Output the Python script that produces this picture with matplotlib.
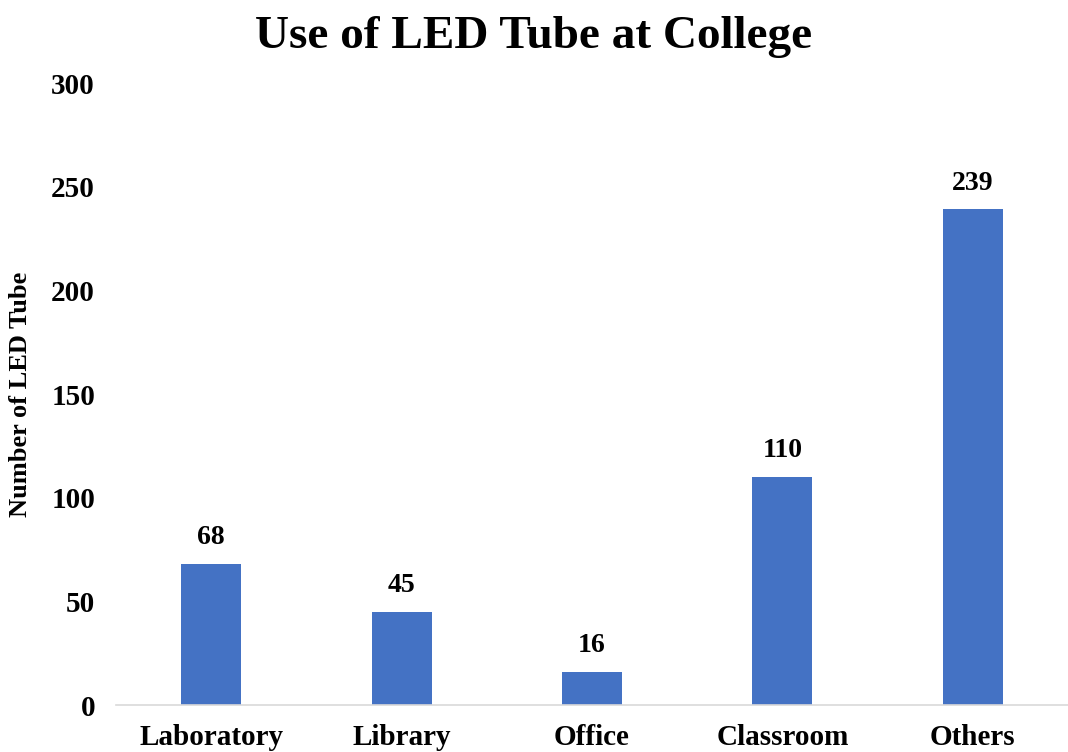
import matplotlib.pyplot as plt
import numpy as np

# Daten
categories = ['Laboratory', 'Library', 'Office', 'Classroom', 'Others']
values = [68, 45, 16, 110, 239]
yticks = [0, 50, 100, 150, 200, 250, 300]

plt.rcParams['font.family'] = ['Liberation Serif', 'DejaVu Serif']
plt.rcParams['font.weight'] = 'bold'

fig = plt.figure(figsize=(10.68, 7.52), dpi=100)
ax = fig.add_axes([0.1085, 0.0625, 0.8915, 0.8271])

x = np.arange(len(categories))
bars = ax.bar(x, values, width=0.315, color='#4472C4')

for b, v in zip(bars, values):
    ax.annotate(str(v), (b.get_x() + b.get_width() / 2, v),
                xytext=(0, 19), textcoords='offset points',
                ha='center', va='center', fontsize=20, fontweight='bold')

ax.set_xlim(-0.5, len(categories) - 0.5)
ax.set_ylim(0, 300)
ax.set_yticks(yticks)
ax.set_xticks(x)
ax.set_xticklabels(categories, fontsize=21, fontweight='bold')
ax.tick_params(axis='y', labelsize=21, length=0, pad=15)
ax.tick_params(axis='x', length=0, pad=14)

for s in ['top', 'right', 'left']:
    ax.spines[s].set_visible(False)
ax.spines['bottom'].set_color('#d9d9d9')
ax.spines['bottom'].set_linewidth(1.2)

ax.set_ylabel('Number of LED Tube', fontsize=19, fontweight='bold', labelpad=14)
fig.suptitle('Use of LED Tube at College', fontsize=34, fontweight='bold', y=0.979)

fig.savefig('out.png', dpi=100)
